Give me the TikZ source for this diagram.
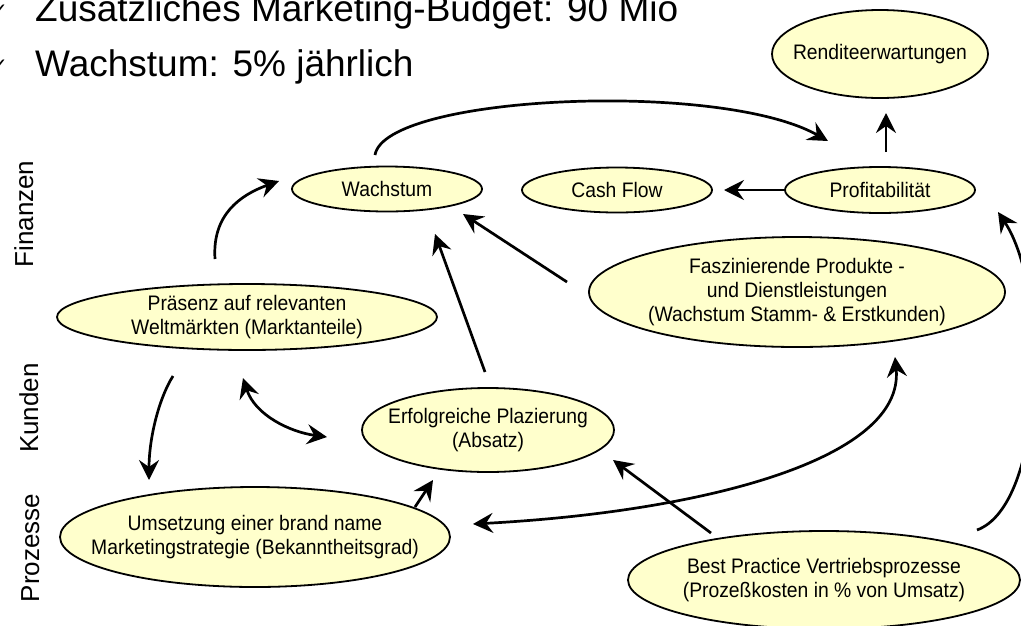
\documentclass[tikz,border=0pt]{standalone}
\usepackage{fontspec}
\setmainfont{Liberation Sans}
\newfontfamily\narrowfont[FakeStretch=0.92]{Liberation Sans}
\newfontfamily\symfont{DejaVu Sans}
\usetikzlibrary{shapes.geometric,arrows.meta,calc}

\definecolor{bubblefill}{RGB}{255,255,204}

\begin{document}
\begin{tikzpicture}[x=1pt,y=-1pt,
  bubble/.style={ellipse,draw=black,line width=1.8pt,fill=bubblefill,
    inner xsep=-90pt,inner ysep=-5pt,align=center,
    font=\narrowfont\fontsize{21}{24}\selectfont},
  headline/.style={anchor=base west,inner sep=0pt,font=\fontsize{37}{44}\selectfont},
  tick/.style={anchor=base east,inner sep=0pt,font=\symfont\fontsize{20}{20}\selectfont},
  lane/.style={rotate=90,anchor=base,inner sep=0pt,font=\fontsize{26}{30}\selectfont},
  link/.style={line width=2.7pt,-{Stealth[length=20pt,width=20pt,inset=7pt]}},
  twoway/.style={line width=2.7pt,{Stealth[length=20pt,width=20pt,inset=7pt]}-{Stealth[length=20pt,width=20pt,inset=7pt]}}
]
\useasboundingbox (0,0) rectangle (1021,625);

% headline bullets
\node[tick] (chk1) at (8,17) {✓};
\node[headline] (line1) at (35,21) {Zusätzliches Marketing-Budget: 90 Mio};
\node[tick] (chk2) at (8,72) {✓};
\node[headline] (line2) at (35,76) {Wachstum: 5\% jährlich};

% perspective labels
\node[lane] (finanzen) at (33,214) {Finanzen};
\node[lane] (kunden) at (38,408) {Kunden};
\node[lane] (prozesse) at (39,548) {Prozesse};

% goals
\node[bubble,minimum width=216pt,minimum height=88pt] (rend) at (880,54) {Renditeerwartungen};
\node[bubble,minimum width=190pt,minimum height=45pt] (wach) at (387,189) {Wachstum};
\node[bubble,minimum width=190pt,minimum height=45pt] (cash) at (617,190) {Cash Flow};
\node[bubble,minimum width=190pt,minimum height=46pt] (prof) at (880,190) {Profitabilität};
\node[bubble,minimum width=380pt,minimum height=66pt] (pras) at (247,317)
  {Präsenz auf relevanten\\Weltmärkten (Marktanteile)};
\node[bubble,minimum width=416pt,minimum height=110pt] (fasz) at (797,292)
  {Faszinierende Produkte -\\und Dienstleistungen\\(Wachstum Stamm- \& Erstkunden)};
\node[bubble,minimum width=252pt,minimum height=84pt] (erfo) at (488,430)
  {Erfolgreiche Plazierung\\(Absatz)};
\node[bubble,minimum width=390pt,minimum height=100pt] (umse) at (255,537)
  {Umsetzung einer brand name\\Marketingstrategie (Bekanntheitsgrad)};
\node[bubble,minimum width=392pt,minimum height=98pt] (best) at (824,580)
  {Best Practice Vertriebsprozesse\\(Prozeßkosten in \% von Umsatz)};

% cause-and-effect links
\draw[link] ($(wach)+(-12,-34)$) .. controls ($(wach)+(-2,-94)$) and ($(prof)+(-160,-110)$) .. ($(prof)+(-52,-49)$);
\draw[link] ($(prof)+(6,-38)$) -- ($(rend)+(6,59)$);
\draw[link] ($(prof)+(-94,0)$) -- ($(cash)+(107,0)$);
\draw[link] ($(pras)+(-32,-58)$) .. controls ($(pras)+(-35,-102)$) and ($(wach)+(-147,6)$) .. ($(wach)+(-108,-8)$);
\draw[link] ($(fasz)+(-230,-10)$) -- ($(wach)+(76,25)$);
\draw[link] ($(erfo)+(-3,-58)$) -- ($(wach)+(48,45)$);
\draw[link] ($(pras)+(-74,59)$) .. controls ($(pras)+(-89,83)$) and ($(umse)+(-106,-97)$) .. ($(umse)+(-106,-57)$);
\draw[twoway] ($(pras)+(-4,61)$) .. controls ($(pras)+(8,98)$) and ($(erfo)+(-198,2)$) .. ($(erfo)+(-161,7)$);
\draw[link] ($(umse)+(160,-30)$) -- ($(erfo)+(-55,50)$);
\draw[link] ($(best)+(-113,-47)$) -- ($(erfo)+(125,30)$);
\draw[twoway] ($(umse)+(218,-13)$) .. controls ($(umse)+(445,-25)$) and ($(fasz)+(108,168)$) .. ($(fasz)+(98,65)$);
\draw[link] ($(best)+(153,-50)$) .. controls ($(best)+(221,-75)$) and ($(prof)+(170,100)$) .. ($(prof)+(118,22)$);
\end{tikzpicture}
\end{document}
